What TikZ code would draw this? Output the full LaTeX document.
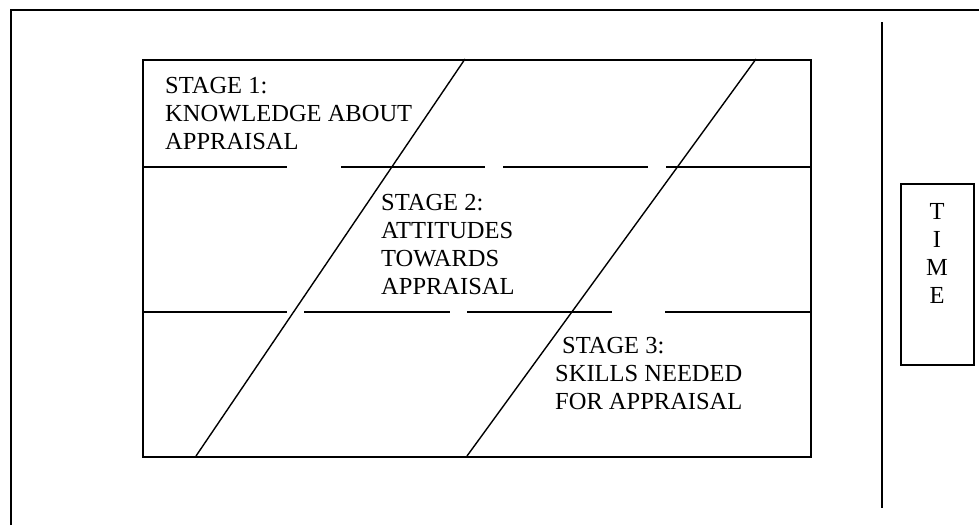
\documentclass[tikz,border=0pt]{standalone}
\usepackage{fontspec}
\setmainfont{Liberation Serif}
\begin{document}
\begin{tikzpicture}[x=1pt,y=-1pt,
  frame/.style={line width=2.2pt},
  boxline/.style={line width=1.6pt},
  thin/.style={line width=1.4pt},
  stagetext/.style={font=\fontsize{24.5}{28}\selectfont, align=left, inner sep=0pt, anchor=north west},
  timetext/.style={font=\fontsize{24.5}{28}\selectfont, align=center, inner sep=0pt, anchor=north}]
\useasboundingbox (0,0) rectangle (979,525);
% outer frame (only top and left visible)
\coordinate (fbl) at (11,525);
\coordinate (ftl) at (11,10);
\coordinate (ftr) at (979,10);
\draw[frame] (fbl) -- (ftl) -- (ftr);
% main box
\node[draw, boxline, minimum width=668pt, minimum height=397pt, inner sep=0pt, anchor=north west] (main) at (142,59) {};
% broken horizontal lines
\coordinate (a0) at (142,167); \coordinate (a1) at (287,167);
\coordinate (a2) at (341,167); \coordinate (a3) at (485,167);
\coordinate (a4) at (503,167); \coordinate (a5) at (648,167);
\coordinate (a6) at (666,167); \coordinate (a7) at (810,167);
\draw[boxline] (a0) -- (a1) (a2) -- (a3) (a4) -- (a5) (a6) -- (a7);
\coordinate (b0) at (142,312); \coordinate (b1) at (287,312);
\coordinate (b2) at (304,312); \coordinate (b3) at (450,312);
\coordinate (b4) at (467,312); \coordinate (b5) at (612,312);
\coordinate (b6) at (665,312); \coordinate (b7) at (810,312);
\draw[boxline] (b0) -- (b1) (b2) -- (b3) (b4) -- (b5) (b6) -- (b7);
% diagonals
\coordinate (d1b) at (196,456); \coordinate (d1t) at (465,59);
\coordinate (d2b) at (467,456); \coordinate (d2t) at (756,59);
\draw[thin] (d1b) -- (d1t);
\draw[thin] (d2b) -- (d2t);
% texts
\node[stagetext] (s1) at (165,77) {STAGE 1:\\KNOWLEDGE ABOUT\\APPRAISAL};
\node[stagetext] (s2) at (381,194) {STAGE 2:\\ATTITUDES\\TOWARDS\\APPRAISAL};
\node[stagetext] (s3) at (555,337) {\hspace*{7pt}STAGE 3:\\SKILLS NEEDED\\FOR APPRAISAL};
% time axis
\coordinate (vt) at (882,22); \coordinate (vb) at (882,508);
\draw[line width=1.2pt] (vt) -- (vb);
\node[draw, boxline, minimum width=73pt, minimum height=181pt, inner sep=0pt, anchor=north west] (timebox) at (900,183) {};
\node[timetext] (time) at (937,203) {T\\I\\M\\E};
\end{tikzpicture}
\end{document}
